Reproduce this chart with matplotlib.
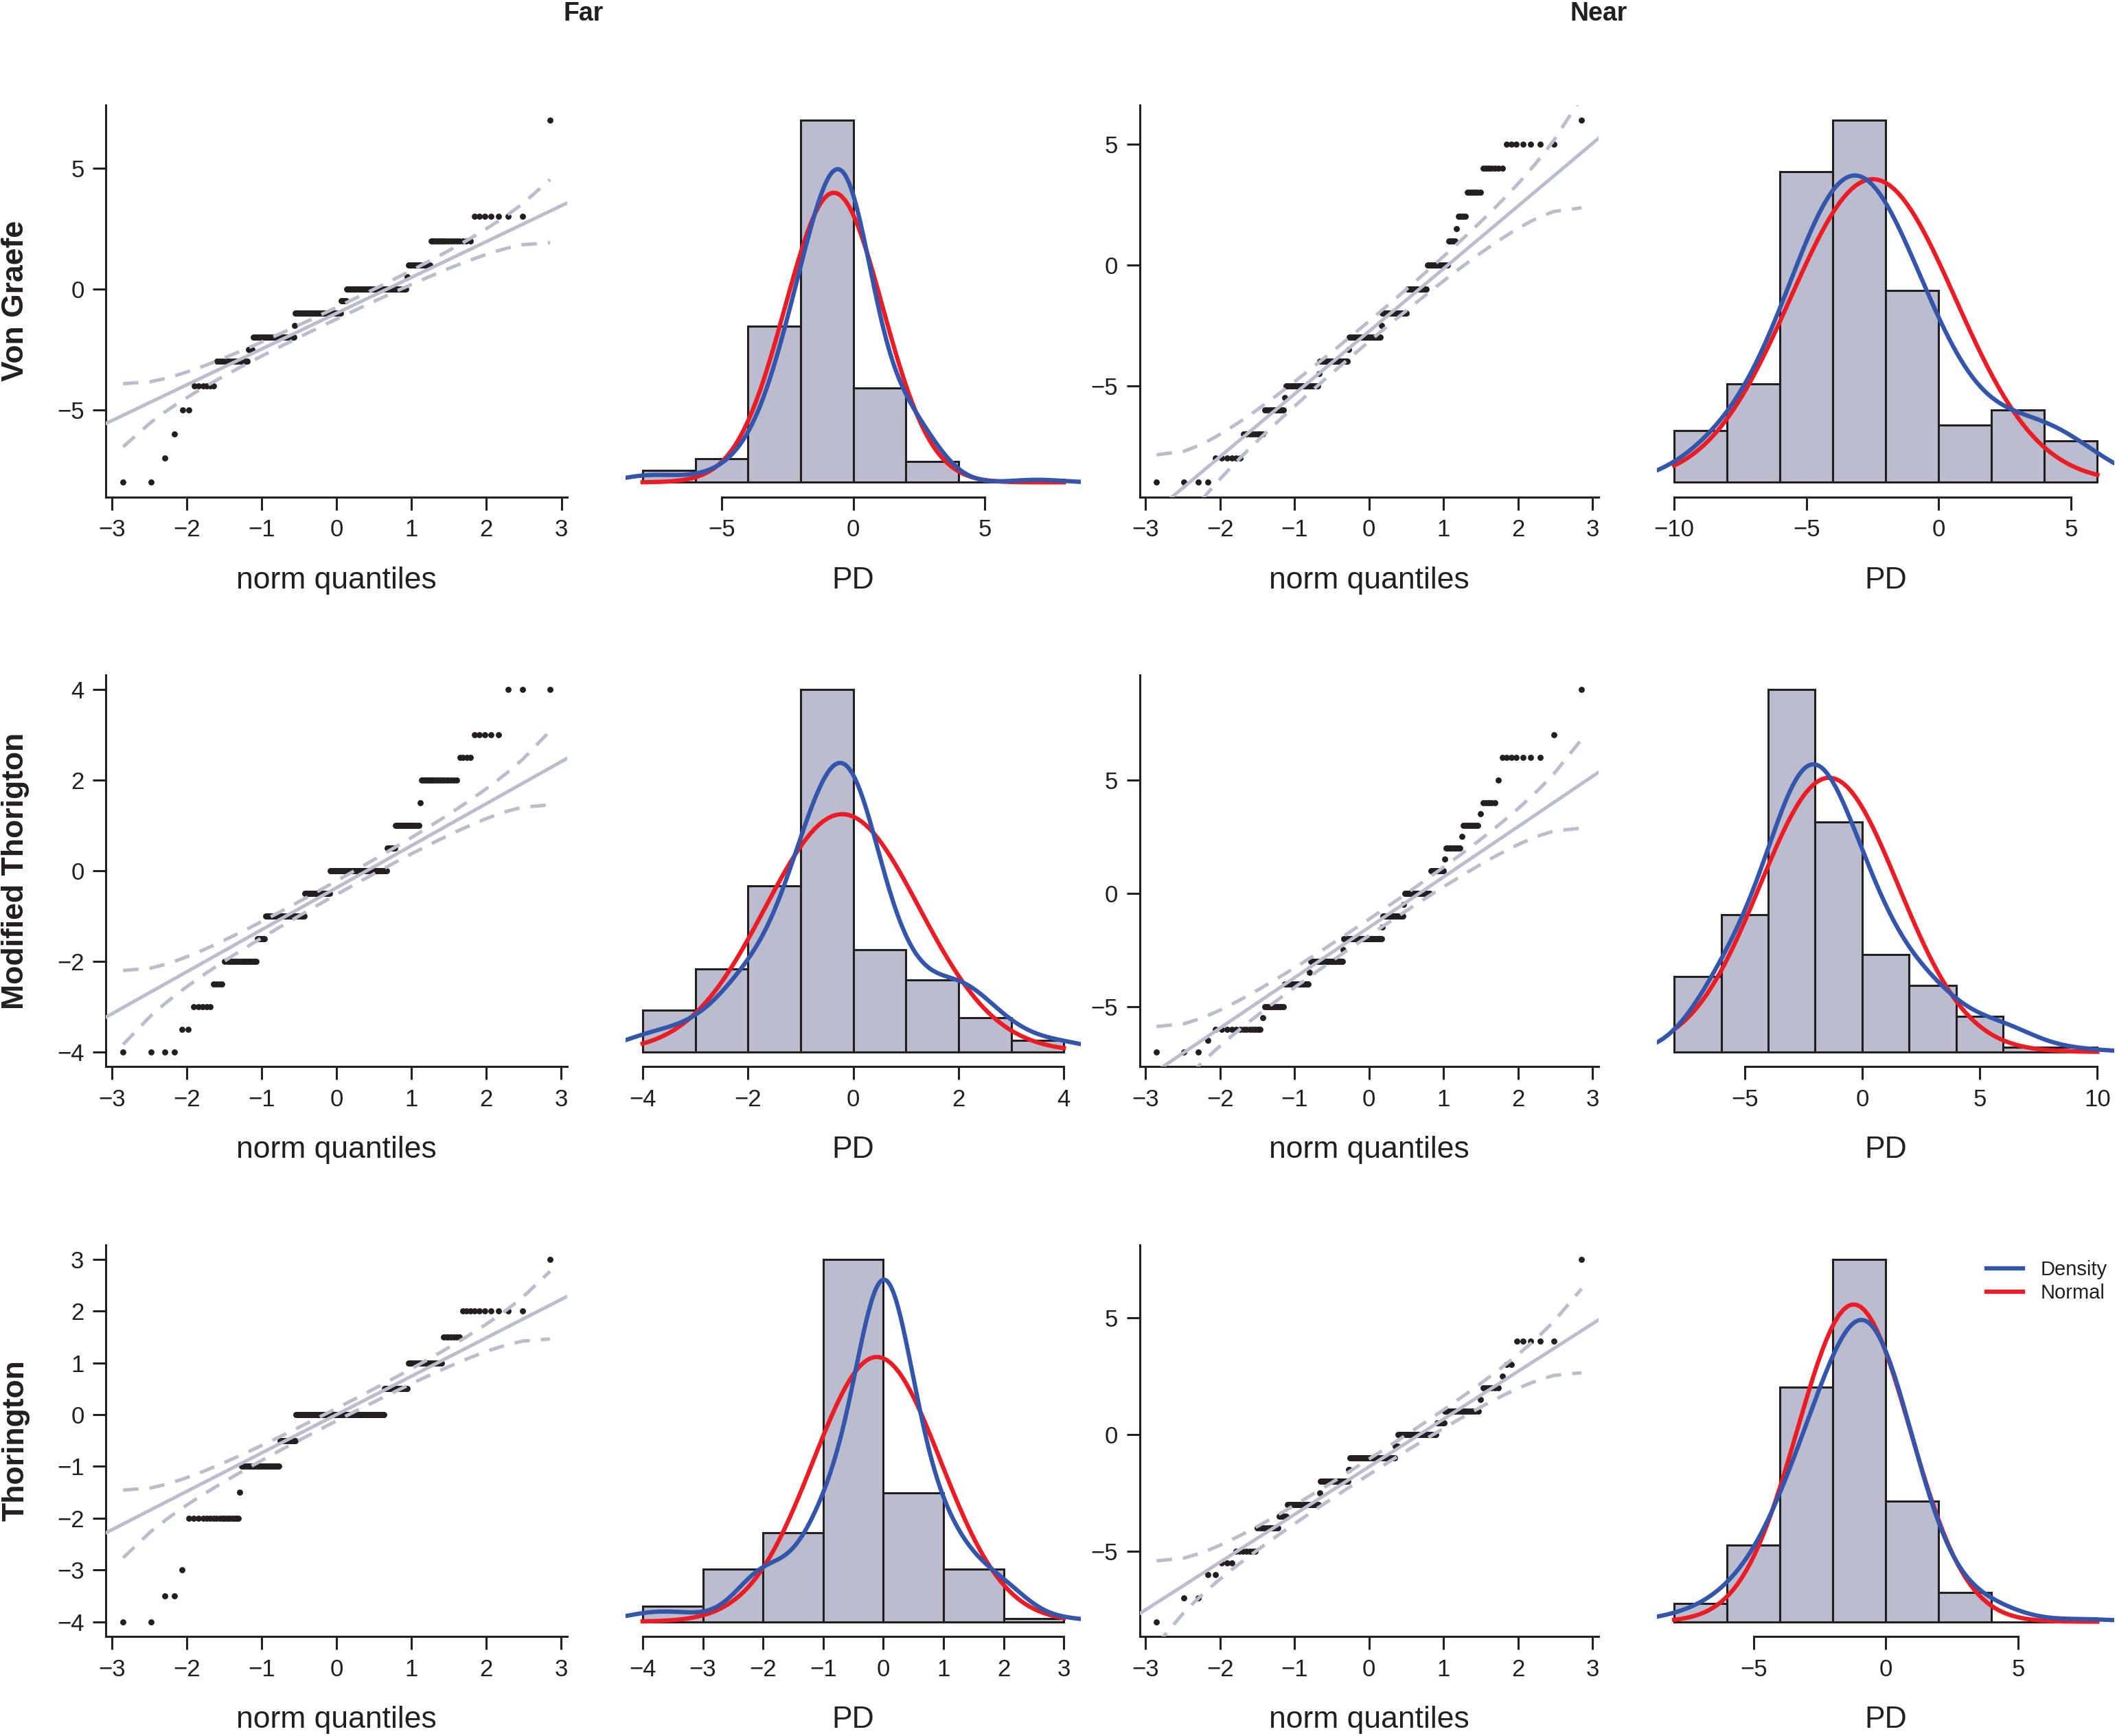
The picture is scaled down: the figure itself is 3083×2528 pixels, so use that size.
import statistics
import numpy as np
import matplotlib
matplotlib.use('Agg')
import matplotlib.pyplot as plt
from matplotlib.ticker import MultipleLocator

plt.rcParams['font.family'] = ['Liberation Sans', 'DejaVu Sans']

INK = '#231f20'
GREY = '#bbbccd'
BLUE = '#3355ab'
RED = '#ed1c24'

# PD values and how many subjects had each
far_vg_values = [-8, -7, -6, -5, -4, -3, -2.5, -2, -1.5, -1, -0.5, 0, 0.5, 1, 2, 3, 7]
far_vg_counts = [2, 1, 1, 2, 6, 15, 3, 35, 1, 53, 7, 62, 1, 15, 16, 7, 1]

near_vg_values = [-9, -8, -7, -6, -5.5, -5, -4.5, -4, -3.5, -3, -2.5, -2, -1, 0, 1, 1.5, 2, 3, 4, 5, 6]
near_vg_counts = [4, 6, 8, 11, 1, 27, 1, 31, 1, 39, 1, 29, 20, 17, 5, 1, 5, 7, 7, 7, 1]

far_mt_values = [-4, -3.5, -3, -2.5, -2, -1.5, -1, -0.5, 0, 0.5, 1, 1.5, 2, 2.5, 3, 4]
far_mt_counts = [4, 2, 5, 4, 18, 6, 38, 30, 66, 8, 19, 1, 18, 4, 5, 3]

near_mt_values = [-7, -6.5, -6, -5.5, -5, -4, -3.5, -3, -2.5, -2, -1.5, -1, -0.5, 0,
                  1, 1.5, 2, 2.5, 3, 3.5, 4, 5, 6, 7, 9]
near_mt_counts = [3, 1, 13, 1, 11, 19, 1, 34, 1, 46, 1, 24, 1, 26,
                  11, 1, 10, 1, 8, 1, 5, 1, 7, 1, 1]

far_th_values = [-4, -3.5, -3, -2, -1.5, -1, -0.5, 0, 0.5, 1, 1.5, 2, 3]
far_th_counts = [2, 2, 1, 17, 1, 28, 16, 102, 21, 21, 7, 10, 1]

near_th_values = [-8, -7, -6, -5.5, -5, -4, -3.5, -3, -2.5, -2, -1.5, -1, -0.5, 0,
                  0.5, 1, 1.5, 2, 2.5, 3, 4, 7.5]
near_th_counts = [1, 2, 2, 3, 7, 11, 5, 27, 1, 31, 2, 55, 3, 39,
                  6, 20, 1, 6, 1, 2, 5, 1]

row_names = ['Von Graefe', 'Modified Thorigton', 'Thorington']
col_titles = ['Far', 'Near']

# per row: (far values, far counts, near values, near counts)
rows = [
    (far_vg_values, far_vg_counts, near_vg_values, near_vg_counts),
    (far_mt_values, far_mt_counts, near_mt_values, near_mt_counts),
    (far_th_values, far_th_counts, near_th_values, near_th_counts),
]
# qq y tick step, histogram break width, histogram tick step
far_steps = [(5, 2, 5), (2, 1, 2), (1, 1, 1)]
near_steps = [(5, 2, 5), (5, 2, 5), (5, 2, 5)]

BW_ADJUST = 2.0
TICK_FS = 25
LAB_FS = 32
LW_AX = 2.2


def ppoints(n):
    a = 3 / 8 if n <= 10 else 0.5
    return (np.arange(1, n + 1) - a) / (n + 1 - 2 * a)


def qnorm(p):
    nd = statistics.NormalDist()
    return np.array([nd.inv_cdf(float(v)) for v in p])


def dnorm(x, mu=0.0, sd=1.0):
    return np.exp(-0.5 * ((x - mu) / sd) ** 2) / (sd * np.sqrt(2 * np.pi))


def base_style(ax):
    for s in ['top', 'right']:
        ax.spines[s].set_visible(False)
    for s in ['left', 'bottom']:
        ax.spines[s].set_linewidth(LW_AX)
        ax.spines[s].set_color(INK)
    ax.tick_params(direction='out', length=14, width=LW_AX, color=INK,
                   labelsize=TICK_FS, labelcolor=INK, pad=9)


def qq_panel(ax, x, ystep):
    n = len(x)
    p = ppoints(n)
    z = qnorm(p)
    y = np.sort(x)
    # reference line through the quartiles
    qx = np.percentile(y, [25, 75])
    qz = qnorm([0.25, 0.75])
    b1 = (qx[1] - qx[0]) / (qz[1] - qz[0])
    b0 = qx[0] - b1 * qz[0]
    fit = b0 + b1 * z
    zz = qnorm([0.975])[0]
    se = (b1 / dnorm(z)) * np.sqrt(p * (1 - p) / n)

    ax.plot(z, y, 'o', ms=6.4, mew=0, color=INK, zorder=2)
    xs = np.array([-10.0, 10.0])
    ax.plot(xs, b0 + b1 * xs, color=GREY, lw=3.6, zorder=3)
    ax.plot(z, fit + zz * se, color=GREY, lw=3.6, ls=(0, (4.5, 3.2)), zorder=3)
    ax.plot(z, fit - zz * se, color=GREY, lw=3.6, ls=(0, (4.5, 3.2)), zorder=3)

    zr = z.max() - z.min()
    ax.set_xlim(z.min() - 0.04 * zr, z.max() + 0.04 * zr)
    yr = y.max() - y.min()
    ax.set_ylim(y.min() - 0.04 * yr, y.max() + 0.04 * yr)
    base_style(ax)
    ax.xaxis.set_major_locator(MultipleLocator(1))
    ax.yaxis.set_major_locator(MultipleLocator(ystep))
    ax.set_xlabel('norm quantiles', fontsize=LAB_FS, color=INK)
    ax.xaxis.set_label_coords(0.5, -0.214)
    ax.xaxis.label.set_va('center')


def hist_panel(ax, x, step, tstep):
    lo = np.floor(x.min() / step) * step
    hi = np.ceil(x.max() / step) * step
    breaks = np.arange(lo, hi + step / 2, step)
    idx = np.clip(np.searchsorted(breaks, x, side='left') - 1, 0, len(breaks) - 2)
    counts = np.bincount(idx, minlength=len(breaks) - 1)
    dens = counts / (len(x) * step)
    ax.bar(breaks[:-1], dens, width=step, align='edge', color=GREY,
           edgecolor=INK, linewidth=2.2, zorder=1)

    xn = np.linspace(breaks[0], breaks[-1], 101)
    l_norm, = ax.plot(xn, dnorm(xn, x.mean(), x.std(ddof=1)), color=RED, lw=4.5, zorder=3)

    iqr = np.percentile(x, 75) - np.percentile(x, 25)
    bw = BW_ADJUST * 0.9 * min(x.std(ddof=1), iqr / 1.34) * len(x) ** -0.2
    xd = np.linspace(x.min() - 3 * bw, x.max() + 3 * bw, 512)
    yd = dnorm((xd[:, None] - x[None, :]) / bw).sum(axis=1) / (len(x) * bw)
    l_dens, = ax.plot(xd, yd, color=BLUE, lw=4.5, zorder=4)

    span = breaks[-1] - breaks[0]
    x0, x1 = breaks[0] - 0.04 * span, breaks[-1] + 0.04 * span
    ax.set_xlim(x0, x1)
    top = dens.max()
    ax.set_ylim(-0.04 * top, 1.04 * top)
    base_style(ax)
    ax.spines['left'].set_visible(False)
    ax.set_yticks([])
    ticks = np.arange(np.ceil(x0 / tstep) * tstep, x1, tstep)
    ax.set_xticks(ticks)
    ax.spines['bottom'].set_bounds(ticks[0], ticks[-1])
    ax.set_xlabel('PD', fontsize=LAB_FS, color=INK)
    ax.xaxis.set_label_coords(0.5, -0.214)
    ax.xaxis.label.set_va('center')
    return l_dens, l_norm


fig = plt.figure(figsize=(30.83, 25.28), dpi=100)

col_left = [0.0501, 0.2956, 0.5383, 0.7828]
col_w = [0.2178, 0.2149, 0.2168, 0.2159]
row_bottom = [0.7138, 0.3857, 0.0575]
row_h = 0.2255

for r, (fv, fc, nv, nc) in enumerate(rows):
    far = np.repeat(np.array(fv, float), fc)
    near = np.repeat(np.array(nv, float), nc)
    axes = [fig.add_axes([col_left[c], row_bottom[r], col_w[c], row_h]) for c in range(4)]
    qq_panel(axes[0], far, far_steps[r][0])
    hist_panel(axes[1], far, far_steps[r][1], far_steps[r][2])
    qq_panel(axes[2], near, near_steps[r][0])
    hd, hn = hist_panel(axes[3], near, near_steps[r][1], near_steps[r][2])
    if r == 2:
        axes[3].legend([hd, hn], ['Density', 'Normal'], loc='upper right',
                       bbox_to_anchor=(0.985, 0.96), frameon=False, fontsize=21,
                       handlelength=1.8, handletextpad=0.9, labelspacing=0.2,
                       borderpad=0, borderaxespad=0, labelcolor=INK)
    fig.text(0.0073, row_bottom[r] + row_h / 2, row_names[r], rotation=90,
             ha='center', va='center', fontsize=32, fontweight='bold', color=INK)

fig.text(432 / 1568, 1 - 10 / 1286, col_titles[0], ha='center', va='center',
         fontsize=27, fontweight='bold', color=INK)
fig.text(1184 / 1568, 1 - 10 / 1286, col_titles[1], ha='center', va='center',
         fontsize=27, fontweight='bold', color=INK)

fig.savefig('out.png', dpi=100, facecolor='white')
